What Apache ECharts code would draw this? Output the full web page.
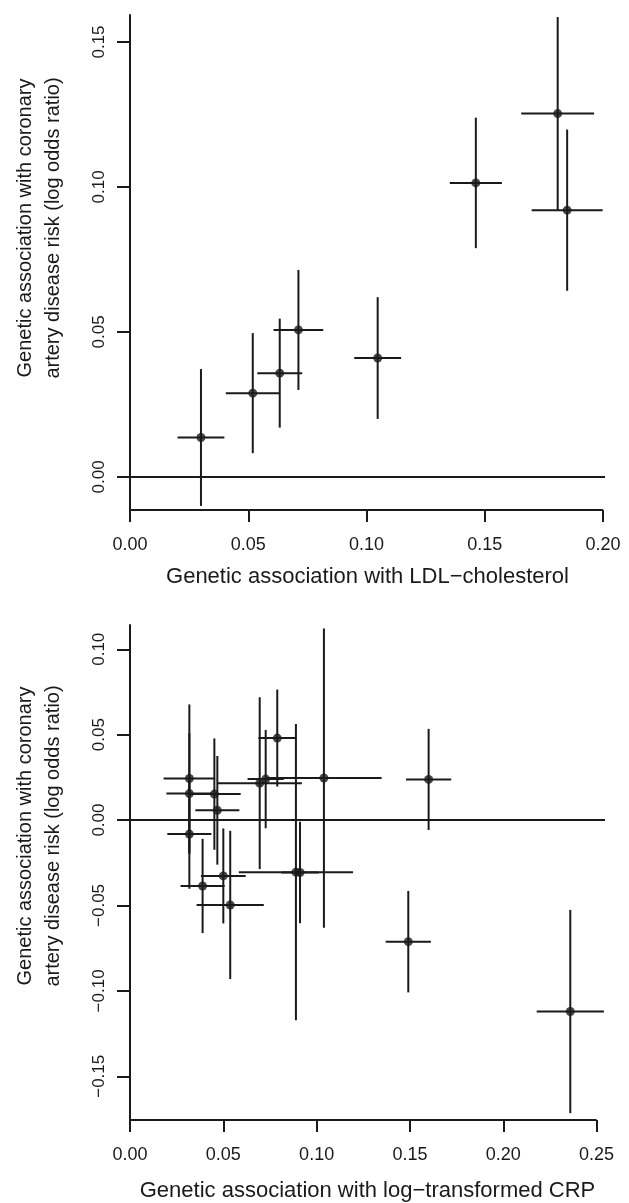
<!DOCTYPE html>
<html>
<head>
<meta charset="utf-8">
<script src="https://cdn.jsdelivr.net/npm/echarts@6/dist/echarts.min.js"></script>
<style>
  html, body { margin: 0; padding: 0; background: #fff; }
  #chart { width: 629px; height: 1203px; }
</style>
</head>
<body>
<div id="chart"></div>
<script>
// top panel: LDL-cholesterol
const ldlX = [0.0300, 0.0519, 0.0633, 0.0712, 0.1047, 0.1462, 0.1808, 0.1848];
const ldlY = [0.0136, 0.0289, 0.0358, 0.0507, 0.0410, 0.1014, 0.1253, 0.0920];
const ldlXErr = [0.0099, 0.0114, 0.0095, 0.0105, 0.0099, 0.0110, 0.0154, 0.0150];
const ldlYErr = [0.0236, 0.0207, 0.0188, 0.0207, 0.0210, 0.0225, 0.0333, 0.0278];
const ldlXTicks = [0, 0.05, 0.10, 0.15, 0.20];
const ldlYTicks = [0, 0.05, 0.10, 0.15];

// bottom panel: log-transformed CRP
const crpX = [0.0318, 0.0318, 0.0318, 0.0452, 0.0468, 0.0389, 0.0500, 0.0537, 0.0695,
  0.0727, 0.1039, 0.0789, 0.0889, 0.0911, 0.1600, 0.1491, 0.2359];
const crpY = [0.0243, 0.0155, -0.0082, 0.0152, 0.0057, -0.0386, -0.0327, -0.0497, 0.0216,
  0.0240, 0.0246, 0.0480, -0.0305, -0.0307, 0.0238, -0.0712, -0.1121];
const crpXErr = [0.0138, 0.0123, 0.0118, 0.0141, 0.0118, 0.0118, 0.0120, 0.0180, 0.0226,
  0.0097, 0.0309, 0.0101, 0.0306, 0.0100, 0.0121, 0.0121, 0.0180];
const crpYErr = [0.0434, 0.0353, 0.0320, 0.0326, 0.0318, 0.0276, 0.0278, 0.0434, 0.0503,
  0.0288, 0.0876, 0.0284, 0.0867, 0.0297, 0.0296, 0.0297, 0.0595];
const crpXTicks = [0, 0.05, 0.10, 0.15, 0.20, 0.25];
const crpYTicks = [-0.15, -0.10, -0.05, 0, 0.05, 0.10];

// axis ranges (plot region as in the original)
const ldlRange = { x: [0, 0.2008], y: [-0.0114, 0.1593] };
const crpRange = { x: [0, 0.2545], y: [-0.1756, 0.1142] };

const ink = '#1a1a1a';
const font = 'Liberation Sans, Arial, Helvetica, sans-serif';

let myChart = echarts.init(document.getElementById('chart'), null, { renderer: 'canvas' });

function fmt(v) {
  return Number(v).toFixed(2).replace('-', '\u2212');
}

function zip(xs, ys, xe, ye) {
  return xs.map((x, i) => [x, ys[i], xe[i], ye[i]]);
}

function errorBars(params, api) {
  let x = api.value(0);
  let y = api.value(1);
  let xe = api.value(2);
  let ye = api.value(3);
  let l = api.coord([x - xe, y]);
  let r = api.coord([x + xe, y]);
  let b = api.coord([x, y - ye]);
  let t = api.coord([x, y + ye]);
  let style = { stroke: ink, lineWidth: 2 };
  return {
    type: 'group',
    children: [
      { type: 'line', shape: { x1: l[0], y1: l[1], x2: r[0], y2: r[1] }, style: style },
      { type: 'line', shape: { x1: b[0], y1: b[1], x2: t[0], y2: t[1] }, style: style },
    ],
  };
}

function xAxisFor(idx, range, ticks, name, gap) {
  return {
    type: 'value',
    gridIndex: idx,
    min: range.x[0],
    max: range.x[1],
    name: name,
    nameLocation: 'middle',
    nameGap: gap,
    nameTextStyle: { color: ink, fontSize: 22, fontFamily: font },
    axisLine: { show: false, onZero: false },
    axisTick: { show: true, length: 12, customValues: ticks, lineStyle: { color: ink, width: 2 } },
    axisLabel: { customValues: ticks, formatter: fmt, color: ink, fontSize: 18, fontFamily: font, margin: 26 },
    splitLine: { show: false },
  };
}

function yAxisFor(idx, range, ticks) {
  return {
    type: 'value',
    gridIndex: idx,
    min: range.y[0],
    max: range.y[1],
    axisLine: { show: true, onZero: false, lineStyle: { color: ink, width: 2 } },
    axisTick: { show: true, length: 13, customValues: ticks, lineStyle: { color: ink, width: 2 } },
    axisLabel: { customValues: ticks, formatter: fmt, rotate: 90, color: ink, fontSize: 17, fontFamily: font, margin: 22 },
    splitLine: { show: false },
  };
}

function panelSeries(idx, data, range, ticks) {
  return [
    {
      type: 'custom',
      xAxisIndex: idx,
      yAxisIndex: idx,
      renderItem: errorBars,
      data: data,
      clip: true,
      z: 2,
      markLine: {
        silent: true,
        symbol: 'none',
        label: { show: false },
        lineStyle: { color: ink, width: 2, type: 'solid' },
        data: [{ yAxis: 0 }],
      },
    },
    {
      type: 'scatter',
      xAxisIndex: idx,
      yAxisIndex: idx,
      symbol: 'circle',
      symbolSize: 9,
      itemStyle: { color: ink },
      data: data.map((d) => [d[0], d[1]]),
      z: 3,
    },
    {
      // bottom axis line runs from the first to the last tick only
      type: 'line',
      xAxisIndex: idx,
      yAxisIndex: idx,
      symbol: 'none',
      clip: false,
      lineStyle: { color: ink, width: 2 },
      data: [[ticks[0], range.y[0]], [ticks[ticks.length - 1], range.y[0]]],
      z: 1,
    },
  ];
}

let yTitle = 'Genetic association with coronary\nartery disease risk (log odds ratio)';

function yTitleText(cy) {
  return {
    type: 'text',
    x: 39,
    y: cy,
    rotation: Math.PI / 2,
    style: { text: yTitle, fill: ink, font: '20px ' + font, align: 'center', verticalAlign: 'middle', lineHeight: 28 },
  };
}

let option = {
  backgroundColor: '#ffffff',
  animation: false,
  grid: [
    { left: 130, top: 15, width: 475, height: 495 },
    { left: 130, top: 625, width: 475, height: 495 },
  ],
  xAxis: [
    xAxisFor(0, ldlRange, ldlXTicks, 'Genetic association with LDL\u2212cholesterol', 56),
    xAxisFor(1, crpRange, crpXTicks, 'Genetic association with log\u2212transformed CRP', 60),
  ],
  yAxis: [
    yAxisFor(0, ldlRange, ldlYTicks),
    yAxisFor(1, crpRange, crpYTicks),
  ],
  series: [
    ...panelSeries(0, zip(ldlX, ldlY, ldlXErr, ldlYErr), ldlRange, ldlXTicks),
    ...panelSeries(1, zip(crpX, crpY, crpXErr, crpYErr), crpRange, crpXTicks),
  ],
  graphic: [yTitleText(228), yTitleText(836)],
};

myChart.setOption(option);
</script>
</body>
</html>
